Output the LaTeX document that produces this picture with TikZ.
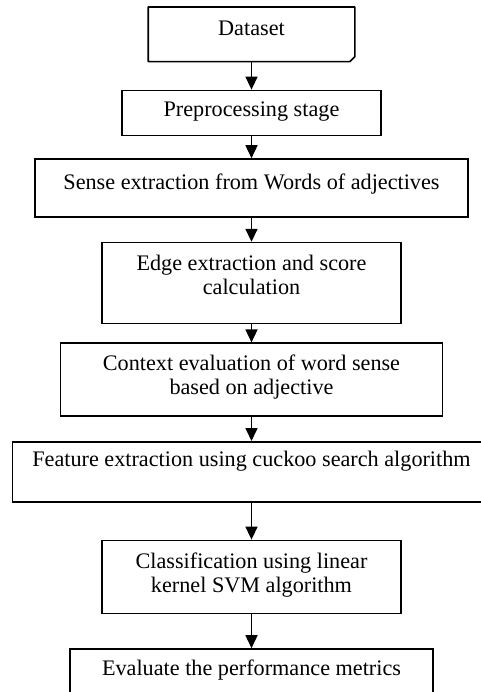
\documentclass[tikz,border=0pt]{standalone}
\usepackage{fontspec}
\setmainfont{Liberation Serif}
\usetikzlibrary{arrows.meta, positioning}

\begin{document}
\begin{tikzpicture}[
    node distance=12pt,
    box/.style={rectangle, draw, line width=0.8pt, align=center,
                inner xsep=0pt, inner ysep=0pt, minimum height=0pt,
                font=\fontsize{11.1}{12}\selectfont},
    arr/.style={-{Triangle[length=6.5pt, width=6pt]}, line width=0.8pt}
  ]
  \useasboundingbox (0,0) rectangle (240.5pt,-346pt);
  \clip (0,0) rectangle (240.5pt,-346pt);

  \node[box, draw=none, anchor=north, minimum width=102.5pt,
        text height=14pt, text depth=12.5pt] (data) at (125.75pt,-3.5pt) {Dataset};
  \node[box, below=14pt of data, minimum width=129.5pt,
        text height=13pt, text depth=9.5pt] (prep) {Preprocessing stage};
  \node[box, below=11pt of prep, minimum width=216.5pt,
        text height=15pt, text depth=14pt] (sense) {Sense extraction from Words of adjectives};
  \node[box, below=of sense, minimum width=149.5pt,
        text height=26pt, text depth=14.5pt] (edge) {Edge extraction and score\\ calculation};
  \node[box, below=9pt of edge, minimum width=191pt,
        text height=25.5pt, text depth=11pt] (ctx) {Context evaluation of word sense\\ based on adjective};
  \node[box, below=of ctx, minimum width=239pt,
        text height=12.5pt, text depth=17.5pt] (feat) {Feature extraction using cuckoo search algorithm};
  \node[box, below=18.5pt of feat, minimum width=149.5pt,
        text height=26pt, text depth=10.5pt] (cls) {Classification using linear\\ kernel SVM algorithm};
  \node[box, below=17pt of cls, minimum width=181.5pt,
        text height=13pt, text depth=23.5pt] (eval) {Evaluate the performance metrics};

  % dataset box with folded corner
  \draw[line width=0.8pt, line join=round]
    (data.north west) -- (data.north east) -- ([yshift=2.5pt]data.south east)
    -- ([xshift=-2.5pt]data.south east) -- (data.south west) -- cycle;

  \draw[arr] (data) -- (prep);
  \draw[arr] (prep) -- (sense);
  \draw[arr] (sense) -- (edge);
  \draw[arr] (edge) -- (ctx);
  \draw[arr] (ctx) -- (feat);
  \draw[arr] (feat) -- (cls);
  \draw[arr] (cls) -- (eval);
\end{tikzpicture}
\end{document}
